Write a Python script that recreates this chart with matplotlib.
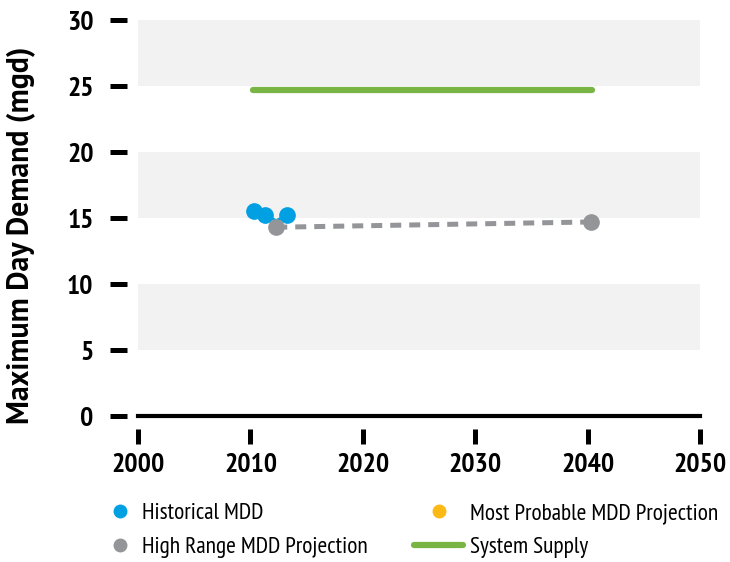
import matplotlib.pyplot as plt
from matplotlib.lines import Line2D

# data
hist_years = [2010.3, 2011.3, 2012.3, 2013.3]
hist_mdd = [15.5, 15.2, 14.8, 15.2]
high_years = [2012.3, 2040.3]
high_mdd = [14.3, 14.7]
supply_years = [2010.2, 2040.4]
supply_mgd = [24.7, 24.7]
band_ranges = [(5, 10), (15, 20), (25, 30)]
x_ticks = [2000, 2010, 2020, 2030, 2040, 2050]
y_ticks = [0, 5, 10, 15, 20, 25, 30]

BLUE = '#00a0e2'
GRAY = '#939598'
GREEN = '#78b545'
YELLOW = '#fdb913'

plt.rcParams['font.family'] = ['PT Sans Narrow', 'DejaVu Sans']

fig = plt.figure(figsize=(7.3, 5.62), dpi=100)
ax = fig.add_axes([138 / 730, 1 - 416 / 562, 562 / 730, 396 / 562])
ax.set_xlim(2000, 2050)
ax.set_ylim(0, 30)

for lo, hi in band_ranges:
    ax.axhspan(lo, hi, color='#f2f2f2', lw=0, zorder=0)
ax.axhline(0, color='black', lw=3, clip_on=False, zorder=1)

ax.plot(hist_years, hist_mdd, color=BLUE, lw=2.2, marker='o', ms=11,
        markevery=[0, 1, 3], zorder=3)
ax.plot(high_years, high_mdd, color=GRAY, lw=3.6, ls=(0, (2.2, 1.6)),
        marker='o', ms=11, zorder=4)
ax.plot(supply_years, supply_mgd, color=GREEN, lw=4.5, solid_capstyle='round',
        zorder=3)

for s in ax.spines.values():
    s.set_visible(False)
ax.spines['left'].set_position(('outward', 8))
ax.spines['bottom'].set_position(('outward', 9))
ax.set_xticks(x_ticks)
ax.set_yticks(y_ticks)
ax.tick_params(axis='y', length=12, width=3.6, pad=12, labelsize=20)
ax.tick_params(axis='x', length=10.5, width=3.6, pad=7, labelsize=20)
for lab in ax.get_xticklabels() + ax.get_yticklabels():
    lab.set_fontweight('bold')
ax.set_ylabel('Maximum Day Demand (mgd)', fontsize=21.5,
              family=['PT Sans', 'DejaVu Sans'], fontweight='bold')
ax.yaxis.set_label_coords(-102 / 562, 0.457)

# two one-column legends so each column keeps its own handle length
leg_kw = dict(loc='upper left', frameon=False, fontsize=16.8, labelspacing=0.52,
              borderaxespad=0, borderpad=0)
fig.legend(
    [Line2D([], [], color=BLUE, marker='o', ls='none', ms=9),
     Line2D([], [], color=GRAY, marker='o', ls='none', ms=9)],
    ['Historical MDD', 'High Range MDD Projection'],
    bbox_to_anchor=(108 / 730, 1 - 503 / 562), handlelength=1.0,
    handletextpad=0.45, **leg_kw)
fig.legend(
    [Line2D([], [], color=YELLOW, marker='o', ls='none', ms=9),
     Line2D([], [], color=GREEN, lw=4.5, solid_capstyle='round')],
    ['Most Probable MDD Projection', 'System Supply'],
    bbox_to_anchor=(414 / 730, 1 - 503 / 562), handlelength=2.1,
    handletextpad=0.3, **leg_kw)

fig.savefig('out.png', dpi=100)
